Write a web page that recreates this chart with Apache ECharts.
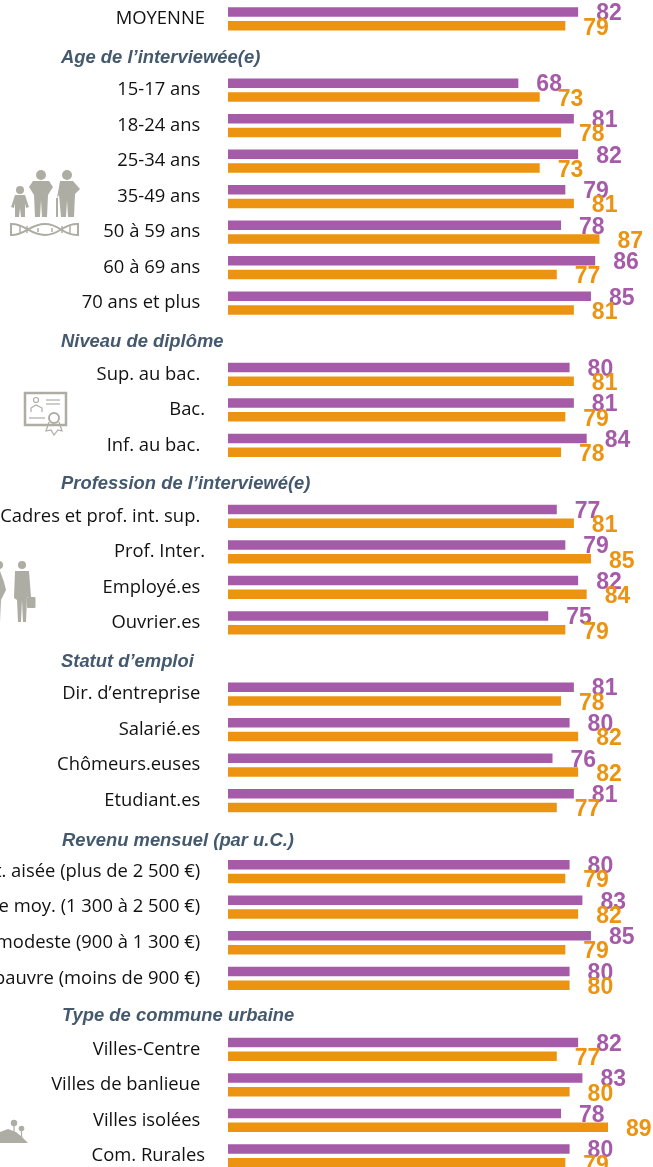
<!DOCTYPE html>
<html><head><meta charset="utf-8">
<style>html,body{margin:0;padding:0;background:#fff;overflow:hidden}#c{width:653px;height:1167px}</style>
<script src="https://cdn.jsdelivr.net/npm/echarts@6/dist/echarts.min.js"></script>
</head><body><div id="c"></div>
<script>
const categories = ["MOYENNE","Age de l’interviewée(e)","15-17 ans","18-24 ans","25-34 ans","35-49 ans","50 à 59 ans","60 à 69 ans","70 ans et plus","Niveau de diplôme","Sup. au bac.","Bac.","Inf. au bac.","Profession de l’interviewé(e)","Cadres et prof. int. sup.","Prof. Inter.","Employé.es","Ouvrier.es","Statut d’emploi","Dir. d’entreprise","Salarié.es","Chômeurs.euses","Etudiant.es","Revenu mensuel (par u.C.)","Cat. aisée (plus de 2 500 €)","Classe moy. (1 300 à 2 500 €)","Cat. modeste (900 à 1 300 €)","Cat. pauvre (moins de 900 €)","Type de commune urbaine","Villes-Centre","Villes de banlieue","Villes isolées","Com. Rurales"];
const headers = ["Age de l’interviewée(e)","Niveau de diplôme","Profession de l’interviewé(e)","Statut d’emploi","Revenu mensuel (par u.C.)","Type de commune urbaine"];
const headerShiftY = [3,3,3,3,5,2];
const flushLabels = ["MOYENNE","Bac.","Prof. Inter.","Com. Rurales"];
const purpleValues = [82,null,68,81,82,79,78,86,85,null,80,81,84,null,77,79,82,75,null,81,80,76,81,null,80,83,85,80,null,82,83,78,80];
const orangeValues = [79,null,73,78,73,81,87,77,81,null,81,79,78,null,81,85,84,79,null,78,82,82,77,null,79,82,79,80,null,77,80,89,79];

const chart = echarts.init(document.getElementById('c'), null, {renderer:'canvas'});
const valueLabel = (c,dy) => ({show:true, position:'right', distance:18, offset:[0,dy], color:c, fontFamily:'Liberation Sans, Arial', fontWeight:'bold', fontSize:23});
chart.setOption({
  animation:false,
  backgroundColor:'#fff',
  grid:{left:228, top:1.2, width:427, height:1172.5, containLabel:false, outerBoundsMode:'none'},
  xAxis:{type:'value', min:0, max:100, show:false},
  yAxis:{type:'category', inverse:true, data:categories,
    axisLine:{show:false}, axisTick:{show:false}, splitLine:{show:false},
    axisLabel:{interval:0, margin:23, color:'#111', fontFamily:'Open Sans', fontSize:18.4, hideOverlap:false, padding:[4,0,0,0],
      formatter:v => headers.includes(v) ? '' : (flushLabels.includes(v) ? v : v+'\u00a0')}},
  series:[
    {type:'bar', name:'Purple', data:purpleValues, barWidth:9.5, barGap:'45%', itemStyle:{color:'#A65BA9'}, label:valueLabel('#A65BA9',2)},
    {type:'bar', name:'Orange', data:orangeValues, barWidth:9.5, itemStyle:{color:'#EC9312'}, label:valueLabel('#EC9312',2.5)}
  ]
});
const g='#AEADA4';
const rect=(x,y,w,h,r)=>({type:'rect',shape:{x,y,width:w,height:h,r:r||0},style:{fill:g}});
const circ=(cx,cy,r)=>({type:'circle',shape:{cx,cy,r},style:{fill:g}});
const poly=(pts)=>({type:'polygon',shape:{points:pts},style:{fill:g}});
const line=(x1,y1,x2,y2,w)=>({type:'line',shape:{x1,y1,x2,y2},style:{stroke:g,lineWidth:w||1.5,fill:null}});
const pline=(pts,w)=>({type:'polyline',shape:{points:pts},style:{stroke:g,lineWidth:w||1.5,fill:null}});
const curve=(x1,y1,cpx1,cpy1,cpx2,cpy2,x2,y2,w)=>({type:'bezierCurve',shape:{x1,y1,cpx1,cpy1,cpx2,cpy2,x2,y2},style:{stroke:g,lineWidth:w||2,fill:null}});
const icons=[
  // child
  circ(20,190,4), poly([[15,195],[25,195],[29,207],[26,208],[25,203],[25,217],[21,217],[20,208],[19,217],[15,217],[15,203],[14,208],[11,207]]),
  // adult
  circ(41,175,5), poly([[33,181],[49,181],[53,187],[48,195],[47,217],[42,217],[41,200],[40,217],[35,217],[34,195],[29,187]]),
  // elder
  circ(67,175,5), poly([[60,181],[73,181],[80,189],[75,194],[74,217],[68,217],[67,200],[66,217],[61,217],[59,195],[57,198]]), line(57,198,57,217,2),
  // dna
  curve(12,224,25,224,30,235,45,235), curve(45,235,60,235,62,224,77,224), curve(12,235,25,235,30,224,45,224), curve(45,224,60,224,62,235,77,235),
  line(11,223,11,236,2),line(78,223,78,236,2),line(20,225,20,234),line(27,226,27,233),line(38,228,38,232),line(52,228,52,232),line(62,226,62,233),line(70,225,70,234),
  // diploma
  {type:'rect',shape:{x:25,y:393,width:41,height:32},style:{stroke:g,lineWidth:2.5,fill:'#fff'}},
  {type:'circle',shape:{cx:36,cy:400,r:2.5},style:{stroke:g,lineWidth:1.2,fill:null}},
  pline([[31,412],[31,408],[36,405],[42,408],[42,412]],1.2), line(46,400,60,400,1.2), line(46,404,60,404,1.2), line(29,418,45,418,1.2),
  {type:'circle',shape:{cx:54,cy:418,r:5},style:{stroke:g,lineWidth:2,fill:'#fff'}},
  pline([[49,422],[46,431],[51,430],[54,435],[58,430],[62,431],[59,422]],1.2),
  // business people
  circ(22,565,4), poly([[15,571],[29,571],[31,597],[27,597],[26,622],[23,622],[22,600],[21,622],[18,622],[17,600],[14,598]]), rect(27,597,8.5,11,1),
  circ(-1,565,4), poly([[0,571],[4,582],[6,590],[1,600],[0,622]]),
  // landscape
  poly([[0,1132],[8,1129],[16,1132],[22,1137],[28,1143],[0,1143]]),
  line(14,1125,14,1134,1.2), line(21.5,1131,21.5,1138,1.2), circ(14,1123,3.2), circ(21.5,1128.5,2.8)
];
const headerTexts = headers.map((h,i)=>({type:'text', x: i>=4?62:61,
  y:chart.convertToPixel({yAxisIndex:0},h)+headerShiftY[i],
  style:{text:h, fill:'#44596E', font:'italic bold 18.4px "Liberation Sans", Arial', verticalAlign:'middle', align:'left'}}));
chart.setOption({graphic:{elements:icons.concat(headerTexts)}});
</script></body></html>
